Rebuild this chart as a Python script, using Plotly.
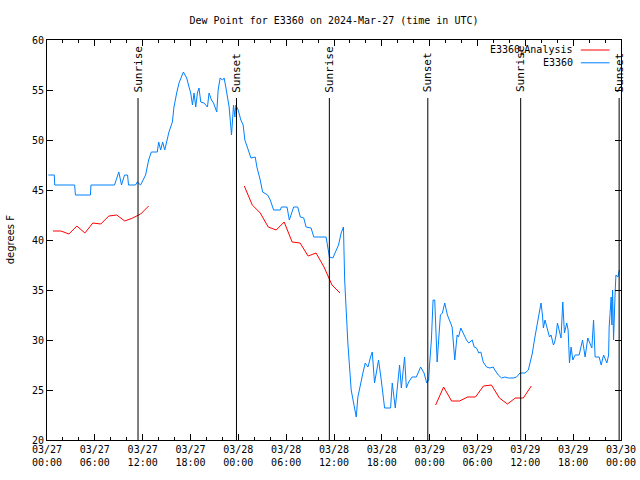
import pandas as pd
import plotly.graph_objects as go

TITLE = "Dew Point for E3360 on 2024-Mar-27 (time in UTC)"
BASE = pd.Timestamp("2024-03-27 00:00")
BLUE_BASE = pd.Timestamp("2024-03-27 00:10")

# E3360 observations (hours after BLUE_BASE, degrees F)
blue_hours = [
    0.0, 0.75, 0.8, 3.3, 3.4, 5.28, 5.35, 8.3, 8.84, 9.18, 9.56, 9.94, 10.06, 10.94,
    11.16, 11.57, 12.2, 12.58, 12.92, 13.67, 13.84, 14.09, 14.34, 14.6, 14.84, 15.13,
    15.56, 15.76, 16.1, 16.39, 16.94, 17.36, 17.65, 17.86, 18.08, 18.28, 18.49, 18.7,
    18.9, 19.12, 19.53, 19.96, 20.16, 20.47, 20.72, 21.13, 21.3, 21.55, 21.85, 22.05,
    22.26, 22.68, 22.98, 23.23, 23.4, 23.52, 23.81, 24.15, 24.44, 24.65, 25.0, 25.41,
    25.95, 26.16, 26.58, 26.88, 27.51, 27.84, 28.26, 29.09, 29.24, 29.94, 30.23, 30.44,
    30.78, 31.28, 31.61, 32.04, 32.33, 32.96, 33.3, 34.84, 35.26, 35.69, 36.1, 36.4,
    36.73, 37.02, 37.17, 37.36, 37.57, 37.99, 38.28, 38.62, 38.83, 39.16, 39.46, 39.75,
    40.09, 40.42, 40.63, 40.92, 41.13, 41.42, 41.76, 42.18, 42.93, 43.14, 43.52, 43.77,
    44.06, 44.28, 44.69, 44.91, 45.2, 45.62, 46.16, 46.7, 47.13, 47.46, 47.71, 47.8,
    48.05, 48.26, 48.47, 48.77, 49.18, 49.43, 49.72, 50.06, 50.35, 50.65, 50.9, 50.98,
    51.28, 51.45, 51.74, 52.04, 52.45, 52.74, 53.17, 53.42, 53.71, 54.0, 54.25, 54.55,
    54.97, 55.38, 55.81, 56.01, 56.44, 56.86, 57.27, 57.7, 58.33, 58.74, 59.16, 59.79,
    60.21, 60.42, 60.72, 60.97, 61.26, 61.55, 61.8, 61.98, 62.1, 62.3, 62.64, 62.86,
    63.06, 63.36, 63.52, 63.69, 63.86, 64.06, 64.31, 64.53, 64.74, 65.03, 65.2, 65.37,
    65.57, 65.79, 66.08, 66.58, 66.79, 67.01, 67.33, 67.67, 67.92, 68.18, 68.39, 68.59,
    69.09, 69.35, 69.65, 70.06, 70.28, 70.35, 70.6, 70.69, 70.78, 70.9, 71.11, 71.2,
    71.45, 71.62,
]
blue_values = [
    46.5, 46.5, 45.5, 45.5, 44.5, 44.5, 45.5, 45.5, 46.8, 45.5, 46.5, 46.5, 45.5, 45.5,
    45.8, 45.5, 46.5, 48.0, 48.8, 48.8, 49.8, 49.0, 49.8, 49.0, 49.8, 50.8,
    51.8, 53.3, 54.7, 55.7, 56.8, 56.2, 55.3, 54.7, 53.5, 54.7, 53.3, 54.7,
    55.2, 53.8, 53.7, 53.3, 54.7, 54.0, 53.7, 52.8, 55.0, 56.2, 56.0, 56.2,
    55.3, 53.3, 50.5, 53.5, 52.3, 53.5, 53.0, 52.0, 51.5, 50.0, 49.2, 48.2,
    48.3, 47.3, 46.0, 44.8, 44.5, 44.0, 43.0, 43.0, 43.3, 43.3, 42.0, 42.5,
    43.3, 43.3, 42.3, 42.2, 41.3, 41.2, 40.3, 40.3, 38.3, 38.2, 39.0, 39.5,
    40.7, 41.3, 36.0, 32.5, 29.7, 25.0, 23.7, 22.3, 24.3, 25.7, 26.7, 27.7,
    27.3, 28.3, 28.8, 25.7, 26.7, 28.0, 26.0, 23.2, 23.2, 25.7, 23.2, 25.5,
    27.5, 25.2, 28.3, 25.2, 25.8, 26.3, 26.3, 27.3, 26.7, 25.7, 26.0, 27.3,
    30.0, 34.0, 34.0, 27.8, 32.5, 32.7, 33.7, 32.5, 31.8, 31.3, 28.8, 28.0,
    30.5, 30.3, 31.2, 30.7, 30.0, 29.7, 30.0, 29.3, 29.2, 28.7, 28.8, 27.8,
    27.3, 27.2, 27.3, 27.0, 26.5, 26.2, 26.3, 26.2, 26.2, 26.3, 26.7, 26.7,
    27.0, 27.7, 28.7, 30.0, 31.3, 32.7, 33.7, 32.5, 31.2, 32.0, 31.0, 30.3,
    30.5, 29.5, 29.8, 30.5, 31.7, 31.0, 30.2, 33.8, 30.7, 31.7, 31.0, 27.7,
    29.3, 28.0, 28.5, 28.5, 29.2, 30.0, 28.3, 30.2, 29.7, 29.2, 32.0, 28.3,
    28.3, 27.5, 28.5, 27.7, 28.5, 31.3, 34.3, 31.5, 35.0, 30.0, 35.0, 36.5,
    36.3, 37.0,
]

# E3360_Analysis (hours after BASE, degrees F), three separate runs
red_hours_a = [0.75, 1.75, 2.75, 3.75, 4.75, 5.75, 6.75, 7.75, 8.75, 9.75, 10.75, 11.75, 12.75]
red_values_a = [40.9, 40.9, 40.6, 41.4, 40.7, 41.7, 41.6, 42.4, 42.5, 41.9, 42.2, 42.6, 43.4]
red_hours_b = [24.75, 25.75, 26.75, 27.75, 28.75, 29.75, 30.75, 31.75, 32.75, 33.75, 34.75, 35.75, 36.75]
red_values_b = [45.4, 43.5, 42.7, 41.3, 41.0, 41.8, 39.8, 39.7, 38.4, 38.7, 37.3, 35.5, 34.7]
red_hours_c = [48.75, 49.75, 50.75, 51.75, 52.75, 53.75, 54.75, 55.75, 56.75, 57.75, 58.75, 59.75, 60.75]
red_values_c = [23.5, 25.3, 23.9, 23.9, 24.3, 24.3, 25.4, 25.5, 24.2, 23.6, 24.2, 24.2, 25.4]

sunrise_times = ["2024-03-27 11:25", "2024-03-28 11:25", "2024-03-29 11:25"]
sunset_times = ["2024-03-27 23:46", "2024-03-28 23:46", "2024-03-29 23:46"]

tick_times = [
    "2024-03-27 00:00", "2024-03-27 06:00", "2024-03-27 12:00", "2024-03-27 18:00",
    "2024-03-28 00:00", "2024-03-28 06:00", "2024-03-28 12:00", "2024-03-28 18:00",
    "2024-03-29 00:00", "2024-03-29 06:00", "2024-03-29 12:00", "2024-03-29 18:00",
    "2024-03-30 00:00",
]
tick_labels = [
    "03/27<br>00:00", "03/27<br>06:00", "03/27<br>12:00", "03/27<br>18:00",
    "03/28<br>00:00", "03/28<br>06:00", "03/28<br>12:00", "03/28<br>18:00",
    "03/29<br>00:00", "03/29<br>06:00", "03/29<br>12:00", "03/29<br>18:00",
    "03/30<br>00:00",
]
y_ticks = [20, 25, 30, 35, 40, 45, 50, 55, 60]

MONO = "DejaVu Sans Mono"
FS = 10
RED = "#ff0000"
BLUE = "#0080ff"


def to_time(base, hours):
    return [base + pd.Timedelta(hours=h) for h in hours]


fig = go.Figure()
for hrs, vals in [(red_hours_a, red_values_a), (red_hours_b, red_values_b), (red_hours_c, red_values_c)]:
    fig.add_trace(go.Scatter(x=to_time(BASE, hrs), y=vals, mode="lines",
                             line=dict(color=RED, width=1), showlegend=False,
                             name="E3360_Analysis"))
fig.add_trace(go.Scatter(x=to_time(BLUE_BASE, blue_hours), y=blue_values, mode="lines",
                         line=dict(color=BLUE, width=1), showlegend=False, name="E3360"))

# Sunrise / sunset markers
for label, times in [("Sunrise", sunrise_times), ("Sunset", sunset_times)]:
    for t in times:
        fig.add_shape(type="line", xref="x", yref="y domain", x0=t, x1=t, y0=0, y1=0.855,
                      line=dict(color="black", width=1))
        fig.add_annotation(x=t, xref="x", yref="y domain", y=0.864, text=label,
                           textangle=-90, showarrow=False, xanchor="center", yanchor="bottom",
                           font=dict(family=MONO, size=FS + 1, color="black"))

# Legend drawn gnuplot style (text then sample)
legend_rows = [("E3360<sub>A</sub>Analysis", RED, 0.975), ("E3360", BLUE, 0.943)]
for text, color, yy in legend_rows:
    fig.add_annotation(x=0.919, y=yy, xref="paper", yref="paper", text=text,
                       showarrow=False, xanchor="right", yanchor="middle",
                       font=dict(family=MONO, size=FS, color="black"))
    fig.add_shape(type="line", xref="paper", yref="paper", x0=0.930, x1=0.980, y0=yy, y1=yy,
                  line=dict(color=color, width=1))

fig.add_annotation(x=-0.064, y=0.5, xref="paper", yref="paper", text="degrees F",
                   textangle=-90, showarrow=False, xanchor="center", yanchor="middle",
                   font=dict(family="DejaVu Sans", size=10, color="black"))

fig.update_layout(
    width=640, height=480,
    margin=dict(l=47, r=19, t=40, b=40, autoexpand=False),
    paper_bgcolor="white", plot_bgcolor="white",
    font=dict(family=MONO, size=FS, color="black"),
    title=dict(text=TITLE, x=0.5, xref="paper", xanchor="center",
               y=1 - 20 / 480, yref="container", yanchor="middle",
               font=dict(family=MONO, size=FS, color="black")),
    showlegend=False,
)
fig.update_xaxes(
    type="date", range=[tick_times[0], tick_times[-1]], automargin=False,
    tickmode="array", tickvals=tick_times, ticktext=tick_labels,
    ticks="inside", ticklen=6, tickcolor="black", tickwidth=1,
    showline=True, linecolor="black", linewidth=1, mirror="allticks",
    showgrid=False, zeroline=False,
    minor=dict(dtick=7200000, tick0=tick_times[0], ticks="inside", ticklen=3,
               tickcolor="black", showgrid=False),
    tickfont=dict(family=MONO, size=FS, color="black"),
)
fig.update_yaxes(
    range=[20, 60], tickmode="array", tickvals=y_ticks, automargin=False,
    ticks="inside", ticklen=6, tickcolor="black", tickwidth=1,
    showline=True, linecolor="black", linewidth=1, mirror="allticks",
    showgrid=False, zeroline=False,
    tickfont=dict(family=MONO, size=FS, color="black"),
)

fig.write_html("out.html", config={"displayModeBar": False},
               post_script="document.body.style.margin='0';document.body.style.overflow='hidden';")
